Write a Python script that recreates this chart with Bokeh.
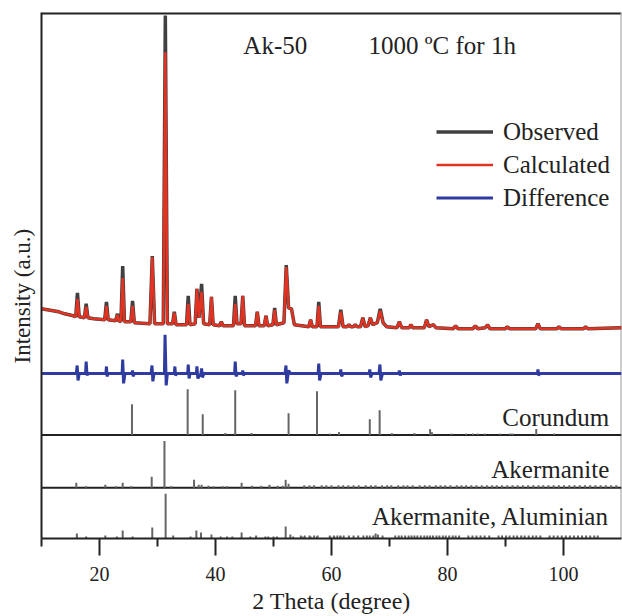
import numpy as np
from bokeh.plotting import figure
from bokeh.models import Range1d, FixedTicker, Label, Legend, LegendItem, Title
from bokeh.embed import file_html
from bokeh.resources import INLINE

# ---------------- data ----------------
two_theta = [10.0, 11.0, 12.0, 13.0, 14.0, 15.5, 15.9, 16.2, 16.5, 17.4, 17.7, 18.0, 19.0, 20.9, 21.2, 21.5,
             22.8, 23.1, 23.4, 23.7, 24.0, 24.3, 25.4, 25.7, 26.0, 28.7, 29.1, 29.5, 31.0, 31.35, 31.7, 32.6,
             32.9, 33.2, 35.0, 35.3, 35.6, 36.5, 36.8, 37.15, 37.6, 37.95, 39.0, 39.3, 39.6, 40.7, 41.0, 41.3,
             43.1, 43.4, 43.7, 44.4, 44.7, 45.0, 46.9, 47.2, 47.5, 48.4, 48.7, 49.0, 49.9, 50.2, 50.5, 51.8,
             52.2, 52.6, 53.1, 53.6, 56.1, 56.4, 56.7, 57.5, 57.8, 58.1, 61.2, 61.6, 62.0, 62.7, 63.0, 63.3,
             63.8, 64.1, 64.4, 65.0, 65.4, 65.8, 66.3, 66.7, 67.1, 67.9, 68.4, 68.9, 69.5, 71.3, 71.7, 72.1,
             73.4, 73.7, 74.0, 76.0, 76.4, 76.8, 77.6, 78.0, 81.0, 81.4, 81.8, 84.4, 84.8, 85.2, 86.5, 86.9,
             87.3, 90.0, 90.3, 90.7, 95.2, 95.6, 96.0, 98.9, 99.2, 99.6, 103.5, 103.8, 104.2, 110.0]
observed = [231, 230, 229, 228, 226, 224, 223, 247, 223, 222, 236, 222, 221, 220, 238, 220,
            219, 226, 218, 219, 274, 218, 218, 239, 217, 216, 284, 216, 216, 526, 216, 216,
            228, 215, 215, 244, 215, 216, 251, 222, 256, 216, 215, 243, 215, 214, 218, 214,
            214, 244, 216, 216, 244, 214, 214, 228, 214, 214, 224, 214, 215, 232, 215, 217,
            275, 232, 231, 215, 213, 220, 213, 213, 238, 213, 213, 230, 213, 213, 215, 213,
            213, 215, 213, 213, 222, 213, 214, 222, 215, 217, 231, 217, 213, 212, 218, 212,
            212, 215, 212, 212, 220, 213, 215, 212, 211, 214, 211, 211, 214, 211, 212, 215,
            211, 211, 213, 211, 211, 216, 211, 211, 213, 211, 211, 213, 211, 212]
calculated = [231, 230, 229, 228, 226, 224, 223, 241, 223, 222, 233, 222, 221, 220, 234, 220,
              219, 225, 218, 219, 262, 218, 218, 234, 217, 216, 283, 216, 216, 489, 216, 216,
              227, 215, 215, 236, 215, 216, 251, 222, 248, 216, 215, 243, 215, 214, 218, 214,
              214, 236, 216, 216, 244, 214, 214, 228, 214, 214, 224, 214, 215, 230, 215, 217,
              273, 232, 231, 215, 213, 220, 213, 213, 234, 213, 213, 228, 213, 213, 215, 213,
              213, 215, 213, 213, 222, 213, 214, 222, 215, 217, 229, 217, 213, 212, 218, 212,
              212, 215, 212, 212, 220, 213, 215, 212, 211, 214, 211, 211, 214, 211, 212, 215,
              211, 211, 213, 211, 211, 216, 211, 211, 213, 211, 211, 213, 211, 212]

diff_theta = [10.0, 16.0, 16.15, 16.3, 16.5, 17.6, 17.7, 17.85, 18.0, 21.1, 21.2, 21.3, 21.5, 23.9, 24.0,
              24.15, 24.4, 25.6, 25.7, 25.8, 26.0, 28.9, 29.05, 29.2, 29.4, 31.2, 31.3, 31.5, 31.7, 32.9,
              33.0, 33.1, 33.3, 35.2, 35.3, 35.45, 35.6, 36.7, 36.8, 36.95, 37.5, 37.6, 37.75, 38.0, 43.3,
              43.4, 43.55, 43.8, 44.6, 44.7, 44.8, 45.0, 52.0, 52.15, 52.3, 52.6, 52.9, 57.7, 57.8, 57.95,
              58.2, 61.5, 61.6, 61.75, 62.0, 66.5, 66.6, 66.75, 67.0, 68.2, 68.35, 68.5, 68.8, 71.6, 71.7,
              71.85, 72.0, 95.5, 95.6, 95.7, 95.9, 110.0]
difference = [0, 0, 8, -7, 0, 0, 12, -2, 0, 0, 7, -3, 0, 0, 14,
              -10, 0, 0, 3, -3, 0, 0, 8, -8, 0, 0, 39, -12, 0, 0,
              7, -2, 0, 0, 9, -5, 0, 0, 7, -5, 0, 5, -4, 0, 0,
              12, -3, 0, 0, 3, -2, 0, 0, 8, -10, 3, 0, 0, 10, -7,
              0, 0, 4, -3, 0, 0, 4, -4, 0, 0, 9, -7, 0, 0, 3,
              -2, 0, 0, 4, -2, 0, 0]

corundum_pos = [25.6, 35.2, 37.8, 41.7, 43.4, 46.2, 52.6, 57.5, 59.7, 61.3, 66.6, 68.3, 70.4, 74.3,
                77.0, 77.3, 80.7, 83.2, 84.4, 85.2, 86.4, 89.0, 90.8, 91.2, 95.3, 98.4]
corundum_int = [31, 46, 21, 2, 45, 2, 22, 44, 1.5, 3, 16, 25, 2, 2,
                6, 3, 1.5, 1.5, 1.5, 1.5, 1.5, 1.5, 1.5, 1.5, 6, 1.5]

akermanite_pos = [16.0, 17.7, 21.0, 22.8, 24.0, 25.5, 29.0, 31.2, 32.4, 36.3, 37.1, 37.6, 38.8, 39.7,
                  41.2, 42.0, 44.5, 46.3, 47.9, 49.3, 50.7, 51.6, 52.1, 52.6,
                  55.3, 56.2, 57.0, 58.3, 59.1, 60.0, 61.2, 62.0, 62.9, 63.8, 64.7, 65.9, 66.8, 67.6,
                  68.7, 69.6, 70.3, 71.5, 72.4, 73.1, 74.0, 75.2, 76.1, 76.9, 78.0, 78.8, 79.6, 80.5,
                  81.6, 82.4, 83.2, 84.1, 85.0, 85.9, 86.8, 87.7, 88.5, 89.4, 90.3, 91.2, 92.1, 93.0,
                  93.9, 94.8, 95.7, 96.5, 97.4, 98.3, 99.2, 100.1, 101.0, 101.9, 102.8, 103.7, 104.6,
                  105.5, 106.4, 107.3, 108.2, 109.1]
akermanite_int = [5, 1.5, 3, 1.5, 5, 1.5, 11, 47, 1.5, 8, 3, 3, 2, 1.5,
                  1.5, 1.5, 5, 2, 2, 3, 2, 2, 8, 4] + [2.5] * 60

aluminian_pos = [16.1, 17.7, 21.0, 23.0, 24.0, 25.7, 29.1, 31.4, 32.7, 35.7, 36.7, 37.5, 39.3, 40.9,
                 42.0, 42.9, 44.5, 46.0, 47.0, 48.6, 49.1, 50.0, 50.6, 52.1, 52.9, 53.4, 55.0, 56.4,
                 57.5, 59.8, 60.5, 61.6,
                 54.7, 55.4, 56.2, 57.0, 57.6, 59.7, 60.4, 61.0, 61.5, 62.1, 63.0, 63.8, 64.6,
                 65.5, 66.1, 66.6, 67.2, 67.6, 68.0, 68.8,
                 71.0, 71.6, 72.1, 72.7, 73.3, 73.8, 74.3, 74.8, 75.4, 76.0, 76.5, 77.0, 77.5, 78.1,
                 78.6, 79.2, 79.7, 80.3, 80.9, 81.4, 82.0,
                 83.6, 84.3, 85.0, 85.7, 86.4, 87.2,
                 88.8, 89.4, 90.1, 90.7, 91.4, 92.0, 92.7, 93.3, 94.0, 94.7, 95.3, 96.0,
                 97.6, 98.3, 99.0, 99.7, 100.4, 101.1, 101.8, 102.5, 103.2, 103.9, 104.6, 105.3, 105.9]
aluminian_int = [5, 2, 3, 2, 8, 2, 11, 45, 3, 2, 8, 6, 4, 2,
                 2, 2, 6, 2, 3, 2, 2, 2, 2, 12, 4, 2, 2, 2,
                 2, 2, 2, 2,
                 3, 3, 3, 3, 3, 3, 3, 3, 3, 3, 3, 3, 3,
                 3, 3, 3, 3, 5, 4, 3,
                 3, 3, 3, 3, 3, 3, 3, 3, 3, 3, 3, 3, 3, 3,
                 3, 3, 3, 3, 3, 3, 3,
                 3, 3, 3, 3, 3, 3,
                 3, 3, 3, 3, 3, 3, 3, 3, 3, 3, 3, 3,
                 3, 3, 3, 3, 3, 3, 3, 3, 3, 3, 3, 3, 3]

x_major_ticks = [20, 40, 60, 80, 100]
x_minor_ticks = [10, 30, 50, 70, 90]
series_names = ["Observed", "Calculated", "Difference"]
phase_names = ["Corundum", "Akermanite", "Akermanite, Aluminian"]

# ---------------- layout constants ----------------
FONT = "Liberation Serif"
DIFF_ZERO = 166
CORUNDUM_BASE = 104
AKERMANITE_BASE = 51
ALUMINIAN_BASE = 0
DARK = "#222222"

p = figure(width=622, height=616, output_backend="svg", toolbar_location=None,
           x_range=Range1d(10, 110), y_range=Range1d(0, 529),
           min_border_left=41, min_border_right=1, min_border_top=12, min_border_bottom=75)
p.outline_line_color = None
p.grid.visible = False
p.background_fill_color = "white"
p.border_fill_color = "white"

# x axis
xa = p.xaxis[0]
xa.ticker = FixedTicker(ticks=x_major_ticks, minor_ticks=x_minor_ticks)
xa.axis_line_width = 2
xa.axis_line_color = DARK
xa.major_tick_line_width = 2
xa.major_tick_line_color = DARK
xa.major_tick_out = 17
xa.major_tick_in = 0
xa.minor_tick_line_width = 2
xa.minor_tick_line_color = DARK
xa.minor_tick_out = 8
xa.minor_tick_in = 0
xa.major_label_text_font = FONT
xa.major_label_text_font_size = "20px"
xa.major_label_text_color = DARK
xa.major_label_standoff = 11
xa.axis_label = "2 Theta (degree)"
xa.axis_label_text_font = FONT
xa.axis_label_text_font_size = "24px"
xa.axis_label_text_font_style = "normal"
xa.axis_label_text_color = DARK
xa.axis_label_standoff = 4

# y axis (line only; title placed on the left side panel)
ya = p.yaxis[0]
ya.ticker = FixedTicker(ticks=[])
ya.axis_line_width = 2
ya.axis_line_color = DARK
ya.major_tick_line_color = None
ya.minor_tick_line_color = None
ya.major_label_text_font_size = "0px"
ya.major_label_standoff = 0

p.add_layout(Title(text="Intensity (a.u.)", align="left", offset=175, standoff=14,
                   text_font=FONT, text_font_size="23px", text_font_style="normal",
                   text_color=DARK), "left")

# frame borders and panel separators
p.line([10, 110], [529, 529], line_color=DARK, line_width=4)
p.line([110, 110], [0, 529], line_color="#9a9a9a", line_width=2)
p.line([10, 110], [CORUNDUM_BASE, CORUNDUM_BASE], line_color=DARK, line_width=2)
p.line([10, 110], [AKERMANITE_BASE, AKERMANITE_BASE], line_color=DARK, line_width=2)

# patterns
r_obs = p.line(two_theta, observed, line_color="#404040", line_width=3.5)
r_calc = p.line(two_theta, calculated, line_color="#e23222", line_width=2.5)
r_diff = p.line(diff_theta, np.array(difference) + DIFF_ZERO, line_color="#2f3b9f", line_width=3)

# reference sticks
STICK = "#666666"
for pos, inten, base in [(corundum_pos, corundum_int, CORUNDUM_BASE),
                         (akermanite_pos, akermanite_int, AKERMANITE_BASE),
                         (aluminian_pos, aluminian_int, ALUMINIAN_BASE)]:
    pos = np.array(pos, dtype=float)
    inten = np.array(inten, dtype=float)
    p.segment(x0=pos, y0=np.full_like(pos, base), x1=pos, y1=base + inten,
              line_color=STICK, line_width=2)

# legend
legend = Legend(items=[LegendItem(label=series_names[0], renderers=[r_obs]),
                       LegendItem(label=series_names[1], renderers=[r_calc]),
                       LegendItem(label=series_names[2], renderers=[r_diff])],
                location=(395, 324), orientation="vertical",
                label_text_font=FONT, label_text_font_size="25px", label_text_color=DARK,
                glyph_width=57, glyph_height=33, label_height=33, label_standoff=10,
                spacing=0, padding=0, margin=0,
                border_line_color=None, background_fill_alpha=0)
p.add_layout(legend, "center")

# annotations
def add_label(text, x, y, align="left"):
    p.add_layout(Label(x=x, y=y, text=text, text_font=FONT, text_font_size="25px",
                       text_color=DARK, text_align=align, text_baseline="alphabetic"))

add_label("Ak-50", 44.8, 496)
add_label("1000 \u00baC for 1h", 66.4, 496)
add_label(phase_names[0], 107.9, 122, "right")
add_label(phase_names[1], 107.9, 69, "right")
add_label(phase_names[2], 107.9, 22, "right")

open("out.html", "w").write(file_html(p, INLINE))
